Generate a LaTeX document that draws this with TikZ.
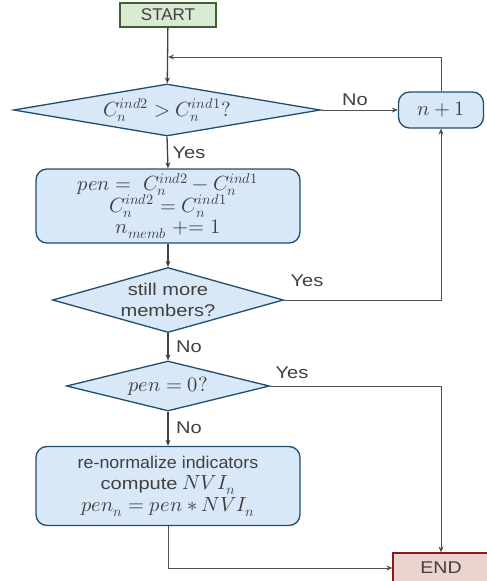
\documentclass[tikz,border=0pt]{standalone}
\usepackage{fontspec}
\usepackage{unicode-math}
\setmainfont{Liberation Sans}
\setmathfont{Latin Modern Math}
\usepackage{graphicx}
\usetikzlibrary{shapes.geometric,arrows.meta}
\definecolor{boxfill}{HTML}{D9E8F6}
\definecolor{boxdraw}{HTML}{1F4E6E}
\definecolor{linec}{HTML}{404040}
\definecolor{backc}{HTML}{505050}
\definecolor{startfill}{HTML}{D9EAD3}
\definecolor{startdraw}{HTML}{3F5F2F}
\definecolor{endfill}{HTML}{EBD3CE}
\definecolor{enddraw}{HTML}{8B1A1A}
\newcommand\hs[1]{\scalebox{1.18}[1]{#1}}
\newcommand\mth[1]{{\fontsize{20.5}{21.5}\selectfont$#1$}}
\newcommand\myfont{\fontsize{17}{21.5}\selectfont\lineskiplimit=-30pt\relax\lineskip=0pt\relax}
\begin{document}
\begin{tikzpicture}[x=1pt,y=-1pt,
  font=\myfont, text=linec,
  proc/.style={draw=boxdraw, fill=boxfill, line width=1.3pt, rounded corners=11pt, align=center, inner sep=0pt},
  dia/.style={diamond, draw=boxdraw, fill=boxfill, line width=1.3pt, inner sep=0pt, aspect=1},
  term/.style={rectangle, line width=1.3pt, inner sep=0pt},
  arr/.style={draw=linec, line width=1.3pt, -{Stealth[length=6pt,width=5pt]}},
  back/.style={draw=backc, line width=0.9pt, -{Stealth[length=6pt,width=5pt]}},
  lbl/.style={text=linec}]
\useasboundingbox (0,0) rectangle (487,581);
\clip (0,0) rectangle (487,581);

\node[term, draw=startdraw, fill=startfill, minimum width=96pt, minimum height=24pt] (start) at (168,15) {START};
\node[dia, minimum width=307pt, minimum height=52pt, label={center:\mth{C_n^{ind2} > C_n^{ind1}?}}] (d1) at (167,110) {};
\node[proc, minimum width=85pt, minimum height=36pt] (inc) at (441,110) {\mth{n+1}};
\node[proc, minimum width=264pt, minimum height=74pt] (p1) at (168,206) {\mth{pen =\ C_n^{ind2} - C_n^{ind1}}\\ \mth{C_n^{ind2} = C_n^{ind1}}\\ \mth{n_{memb} \mathrel{+}= 1}};
\node[dia, minimum width=231pt, minimum height=65pt, label={[align=center]center:\hs{still more}\\\hs{members?}}] (d2) at (168,300) {};
\node[dia, minimum width=203pt, minimum height=50pt, label={center:\mth{pen = 0?}}] (d3) at (168,386) {};
\node[proc, minimum width=264pt, minimum height=79pt] (p2) at (168,486) {\scalebox{1.05}[1]{re-normalize indicators}\\ \hs{compute} \mth{NVI_n}\\ \mth{pen_n = pen * NVI_n}};
\node[term, draw=enddraw, fill=endfill, minimum width=96pt, minimum height=30pt] (end) at (441,568) {\scalebox{1.15}[1]{END}};

\coordinate (j) at (168,57);
\draw[arr] (start) -- (d1);
\draw[back] (inc.north) |- (j);
\draw[back] (d1.east) -- (inc.west);
\node[lbl] at (355,100) {\hs{No}};
\draw[arr] (d1.south) -- (p1.north);
\node[lbl] at (189,153) {\hs{Yes}};
\draw[arr] (p1.south) -- (d2.north);
\draw[back] (d2.east) -| (inc.south);
\node[lbl] at (307,281) {\hs{Yes}};
\draw[arr] (d2.south) -- (d3.north);
\node[lbl] at (189,347) {\hs{No}};
\draw[back] (d3.east) -| (end.north);
\node[lbl] at (292,373) {\hs{Yes}};
\draw[arr] (d3.south) -- (p2.north);
\node[lbl] at (189,428) {\hs{No}};
\draw[back] (p2.south) |- (end.west);
\end{tikzpicture}
\end{document}
